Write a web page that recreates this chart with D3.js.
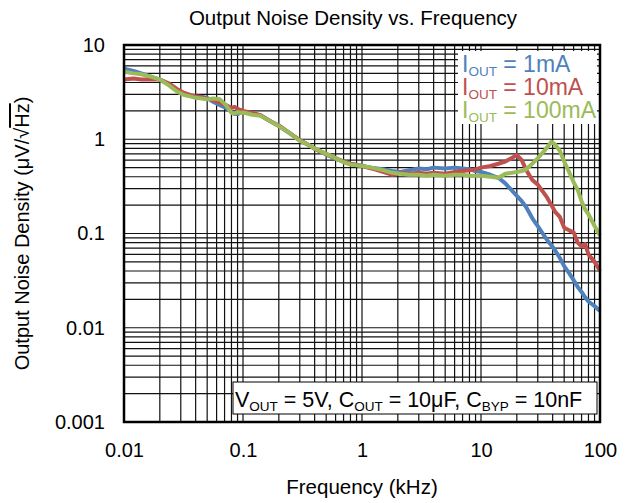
<!DOCTYPE html>
<meta charset="utf-8">
<style>
 body { margin: 0; background: white; }
 svg { display: block; font-family: 'Liberation Sans', Arial, sans-serif; }
</style>
<svg width="628" height="503"></svg>
<script src="https://d3js.org/d3.v7.min.js"></script>
<script>
 // frequency in kHz, noise in uV/rtHz
 var freq = [0.010, 0.012, 0.014, 0.017, 0.020, 0.024, 0.028, 0.032, 0.036, 0.040,
             0.045, 0.050, 0.056, 0.064, 0.072, 0.080, 0.085, 0.090, 0.095, 0.10,
             0.12, 0.14, 0.17, 0.20, 0.25, 0.30, 0.35, 0.40, 0.50, 0.60,
             0.70, 0.80, 1.0, 1.2, 1.5, 1.8, 2.1, 2.5, 3.0, 3.5,
             4.0, 5.0, 6.0, 7.0, 8.0, 9.0, 10, 12, 14, 16,
             18, 20, 22, 24, 27, 30, 33, 36, 39, 42,
             46, 50, 55, 60, 65, 70, 75, 80, 90, 100];
 var iout1mA = [5.6, 5.3, 5.0, 4.6, 4.3, 3.8, 3.3, 3.05, 2.9, 2.85,
                2.8, 2.75, 2.5, 2.3, 2.15, 1.95, 1.85, 1.85, 1.9, 1.95,
                1.85, 1.8, 1.55, 1.38, 1.15, 0.97, 0.88, 0.8, 0.69, 0.62,
                0.58, 0.55, 0.52, 0.5, 0.48, 0.46, 0.45, 0.47, 0.49, 0.48,
                0.5, 0.49, 0.5, 0.49, 0.48, 0.46, 0.45, 0.42, 0.39, 0.34,
                0.29, 0.25, 0.22, 0.19, 0.145, 0.12, 0.1, 0.085, 0.075, 0.066,
                0.055, 0.045, 0.038, 0.032, 0.027, 0.024, 0.021, 0.019, 0.017, 0.015];
 var iout10mA = [4.3, 4.4, 4.3, 4.3, 4.3, 3.9, 3.4, 3.1, 2.95, 2.85,
                 2.8, 2.7, 2.6, 2.45, 2.3, 2.15, 2.2, 2.1, 2.05, 2.0,
                 1.9, 1.8, 1.55, 1.4, 1.15, 0.98, 0.88, 0.79, 0.7, 0.63,
                 0.58, 0.55, 0.52, 0.49, 0.45, 0.42, 0.44, 0.43, 0.44, 0.43,
                 0.44, 0.43, 0.45, 0.46, 0.47, 0.48, 0.5, 0.52, 0.55, 0.58,
                 0.63, 0.68, 0.6, 0.47, 0.37, 0.33, 0.28, 0.24, 0.2, 0.17,
                 0.15, 0.115, 0.108, 0.103, 0.08, 0.073, 0.077, 0.06, 0.05, 0.04];
 var iout100mA = [5.2, 5.0, 4.9, 4.6, 4.3, 3.7, 3.2, 2.95, 2.85, 2.75,
                  2.7, 2.65, 2.7, 2.65, 2.3, 1.9, 1.88, 1.95, 1.9, 1.92,
                  1.82, 1.78, 1.55, 1.38, 1.15, 0.96, 0.88, 0.8, 0.7, 0.63,
                  0.57, 0.54, 0.52, 0.5, 0.47, 0.44, 0.43, 0.42, 0.42, 0.41,
                  0.42, 0.41, 0.42, 0.42, 0.41, 0.41, 0.41, 0.4, 0.39, 0.43,
                  0.44, 0.45, 0.46, 0.48, 0.55, 0.63, 0.72, 0.82, 0.94, 0.88,
                  0.75, 0.58, 0.45, 0.35, 0.29, 0.22, 0.18, 0.16, 0.12, 0.095];
 var seriesNames = ['1mA', '10mA', '100mA'];
 var seriesColors = ['#4F81BD', '#C0504D', '#9BBB59'];
 var xTicks = [0.01, 0.1, 1, 10, 100];
 var yTicks = [10, 1, 0.1, 0.01, 0.001];

 var svg = d3.select('svg');
 var m = {left: 124, right: 28, top: 45, bottom: 81};
 var w = 628 - m.left - m.right, h = 503 - m.top - m.bottom;

 var x = d3.scaleLog().domain([0.01, 100]).range([0, w]);
 var y = d3.scaleLog().domain([0.001, 10]).range([h, 0]);

 var g = svg.append('g').attr('transform', 'translate(' + m.left + ',' + m.top + ')');

 // minor + major grid lines (1..9 per decade)
 var gridX = [], gridY = [];
 [0.01, 0.1, 1, 10].forEach(function(d) {
     for (var k = 1; k < 10; k++) gridX.push(d * k);
 });
 [0.001, 0.01, 0.1, 1].forEach(function(d) {
     for (var k = 1; k < 10; k++) gridY.push(d * k);
 });
 g.append('g').selectAll('line').data(gridX).enter().append('line')
     .attr('x1', d => x(d)).attr('x2', d => x(d))
     .attr('y1', 0).attr('y2', h)
     .attr('stroke', '#111').attr('stroke-width', 1.2);
 g.append('g').selectAll('line').data(gridY).enter().append('line')
     .attr('y1', d => y(d)).attr('y2', d => y(d))
     .attr('x1', 0).attr('x2', w)
     .attr('stroke', '#111').attr('stroke-width', 1.2);

 // legend + note backgrounds
 g.append('rect').attr('x', 334).attr('y', 6).attr('width', w - 337).attr('height', 73)
     .attr('fill', 'white');
 g.append('rect').attr('x', 109).attr('y', 337).attr('width', w - 112).attr('height', 32)
     .attr('fill', 'white').attr('stroke', '#000').attr('stroke-width', 1);

 // curves
 var line = d3.line().x((d, i) => x(freq[i])).y(d => y(d));
 [iout1mA, iout10mA, iout100mA].forEach(function(s, i) {
     g.append('path').datum(s).attr('d', line)
         .attr('fill', 'none').attr('stroke', seriesColors[i])
         .attr('stroke-width', 4).attr('stroke-linejoin', 'round');
 });

 // frame
 g.append('rect').attr('width', w).attr('height', h)
     .attr('fill', 'none').attr('stroke', '#000').attr('stroke-width', 2.5);

 // axes labels
 var fmt = d => String(d);
 var xa = g.append('g').attr('transform', 'translate(0,' + h + ')')
     .call(d3.axisBottom(x).tickValues(xTicks).tickFormat(fmt).tickSize(0).tickPadding(21));
 var ya = g.append('g')
     .call(d3.axisLeft(y).tickValues(yTicks).tickFormat(fmt).tickSize(0).tickPadding(19));
 [xa, ya].forEach(function(a) {
     a.select('.domain').remove();
     a.selectAll('text').attr('font-size', 20).attr('fill', '#000')
         .attr('font-family', "'Liberation Sans', Arial, sans-serif");
 });

 // legend
 seriesNames.forEach(function(n, i) {
     var t = g.append('text').attr('x', 338).attr('y', 27 + i * 23)
         .attr('font-size', 23).attr('fill', seriesColors[i]);
     t.append('tspan').text('I');
     t.append('tspan').attr('font-size', 13.5).attr('dy', 4).text('OUT');
     t.append('tspan').attr('dy', -4).text(' = ' + n);
 });

 // note
 var nt = g.append('text').attr('x', 111).attr('y', 362).attr('font-size', 21.5).attr('fill', '#000');
 [['V', 'OUT', ' = 5V, '], ['C', 'OUT', ' = 10μF, '], ['C', 'BYP', ' = 10nF']].forEach(function(p) {
     nt.append('tspan').text(p[0]);
     nt.append('tspan').attr('font-size', 13.5).attr('dy', 4).text(p[1]);
     nt.append('tspan').attr('dy', -4).text(p[2]);
 });

 // titles
 svg.append('text').attr('x', 353).attr('y', 25).attr('text-anchor', 'middle')
     .attr('font-size', 20.5).text('Output Noise Density vs. Frequency');
 svg.append('text').attr('x', m.left + w / 2).attr('y', 494).attr('text-anchor', 'middle')
     .attr('font-size', 20.5).text('Frequency (kHz)');
 var yt = svg.append('text').attr('transform', 'translate(29,' + (m.top + h / 2) + ') rotate(-90)')
     .attr('text-anchor', 'middle').attr('font-size', 20);
 yt.append('tspan').text('Output Noise Density (μV/√');
 yt.append('tspan').style('text-decoration', 'overline').text('Hz');
 yt.append('tspan').text(')');
</script>
